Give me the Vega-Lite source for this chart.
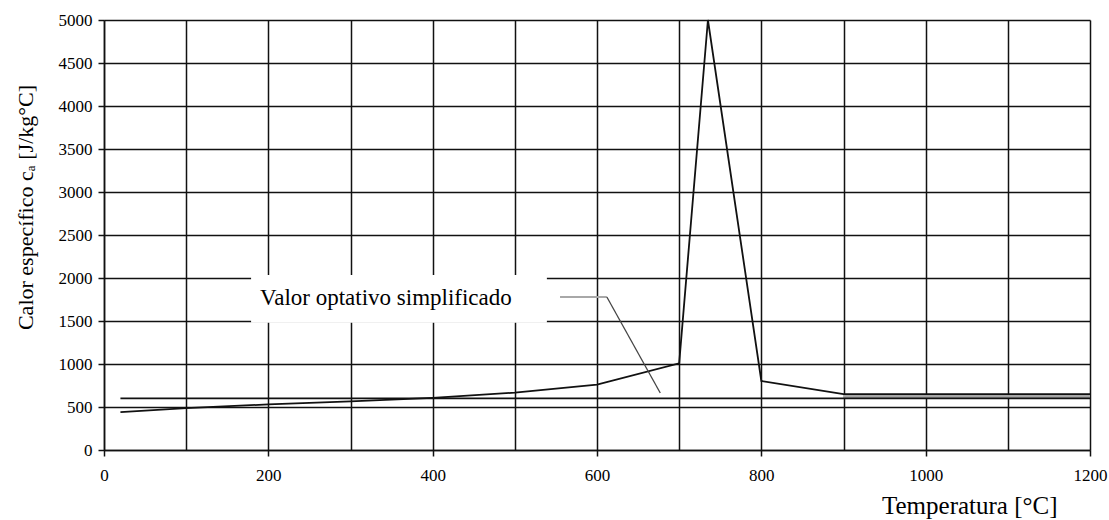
{
  "$schema": "https://vega.github.io/schema/vega-lite/v6.json",
  "width": 986,
  "height": 430,
  "autosize": {"type": "none"},
  "padding": {"left": 104, "top": 20, "right": 19, "bottom": 70},
  "background": "white",
  "config": {
    "view": {"stroke": null},
    "font": "Liberation Serif",
    "axis": {
      "labelFont": "Liberation Serif",
      "titleFont": "Liberation Serif",
      "labelColor": "#000",
      "titleColor": "#000",
      "titleFontWeight": "normal",
      "domainColor": "#111",
      "domainWidth": 1.5,
      "tickColor": "#111",
      "tickWidth": 1.5,
      "gridColor": "#111",
      "gridWidth": 1.5,
      "gridOpacity": 1
    }
  },
  "datasets": {
    "curve": [
      {"t": 20, "c": 440},
      {"t": 100, "c": 488},
      {"t": 200, "c": 530},
      {"t": 300, "c": 565},
      {"t": 400, "c": 606},
      {"t": 500, "c": 667},
      {"t": 600, "c": 760},
      {"t": 700, "c": 1008},
      {"t": 735, "c": 5000},
      {"t": 800, "c": 803},
      {"t": 900, "c": 650},
      {"t": 1200, "c": 650}
    ],
    "simple": [
      {"t": 20, "c": 600},
      {"t": 1200, "c": 600}
    ],
    "band": [
      {"t": 900, "lo": 600, "hi": 650},
      {"t": 1200, "lo": 600, "hi": 650}
    ],
    "box": [
      {"x1": 179, "x2": 539, "y1": 1480, "y2": 2035}
    ],
    "leader1": [
      {"t": 555, "c": 1779},
      {"t": 612, "c": 1779}
    ],
    "leader2": [
      {"t": 612, "c": 1779},
      {"t": 677, "c": 663}
    ],
    "label": [
      {"t": 190, "c": 1770, "text": "Valor optativo simplificado"}
    ]
  },
  "layer": [
    {
      "data": {"name": "band"},
      "mark": {"type": "area", "color": "#a6a6a6", "opacity": 1},
      "encoding": {
        "x": {
          "field": "t", "type": "quantitative",
          "scale": {"domain": [0, 1200], "nice": false, "zero": false},
          "axis": {
            "values": [0, 100, 200, 300, 400, 500, 600, 700, 800, 900, 1000, 1100, 1200],
            "labelExpr": "datum.value % 200 === 0 ? datum.label : ''",
            "format": "d",
            "tickOpacity": {"condition": {"test": "datum.value % 200 === 0", "value": 1}, "value": 0},
            "tickSize": 6,
            "labelPadding": 11,
            "labelFont": "Liberation Serif",
            "labelFontSize": 17,
            "labelFlush": false,
            "grid": true,
            "title": "Temperatura [°C]",
            "titleFont": "Liberation Serif",
            "titleFontSize": 25,
            "titleAlign": "right",
            "titleAnchor": null,
            "titleX": 953,
            "titleY": 63,
            "titleBaseline": "alphabetic"
          }
        },
        "y": {
          "field": "hi", "type": "quantitative",
          "scale": {"domain": [0, 5000], "nice": false},
          "axis": {
            "values": [0, 500, 1000, 1500, 2000, 2500, 3000, 3500, 4000, 4500, 5000],
            "format": "d",
            "tickSize": 6,
            "labelPadding": 6,
            "labelFont": "Liberation Serif",
            "labelFontSize": 17,
            "labelFlush": false,
            "grid": true,
            "title": "Calor específico cₐ [J/kg°C]",
            "titleFont": "Liberation Serif",
            "titleFontSize": 22,
            "titleAngle": -90,
            "titleAlign": "center",
            "titleBaseline": "middle",
            "titleX": -79,
            "titleY": 187
          }
        },
        "y2": {"field": "lo"}
      }
    },
    {
      "data": {"name": "box"},
      "mark": {"type": "rect", "color": "white", "opacity": 1},
      "encoding": {
        "x": {"field": "x1", "type": "quantitative"},
        "x2": {"field": "x2"},
        "y": {"field": "y1", "type": "quantitative"},
        "y2": {"field": "y2"}
      }
    },
    {
      "data": {"name": "simple"},
      "mark": {"type": "line", "color": "#111", "strokeWidth": 1.8},
      "encoding": {
        "x": {"field": "t", "type": "quantitative"},
        "y": {"field": "c", "type": "quantitative"}
      }
    },
    {
      "data": {"name": "curve"},
      "mark": {"type": "line", "color": "#111", "strokeWidth": 1.8},
      "encoding": {
        "x": {"field": "t", "type": "quantitative"},
        "y": {"field": "c", "type": "quantitative"}
      }
    },
    {
      "data": {"name": "leader1"},
      "mark": {"type": "line", "color": "#a8a8a8", "strokeWidth": 2.2},
      "encoding": {
        "x": {"field": "t", "type": "quantitative"},
        "y": {"field": "c", "type": "quantitative"}
      }
    },
    {
      "data": {"name": "leader2"},
      "mark": {"type": "line", "color": "#444", "strokeWidth": 1.3},
      "encoding": {
        "x": {"field": "t", "type": "quantitative"},
        "y": {"field": "c", "type": "quantitative"}
      }
    },
    {
      "data": {"name": "label"},
      "mark": {"type": "text", "align": "left", "baseline": "middle", "font": "Liberation Serif", "fontSize": 23, "color": "#000"},
      "encoding": {
        "x": {"field": "t", "type": "quantitative"},
        "y": {"field": "c", "type": "quantitative"},
        "text": {"field": "text"}
      }
    }
  ]
}
